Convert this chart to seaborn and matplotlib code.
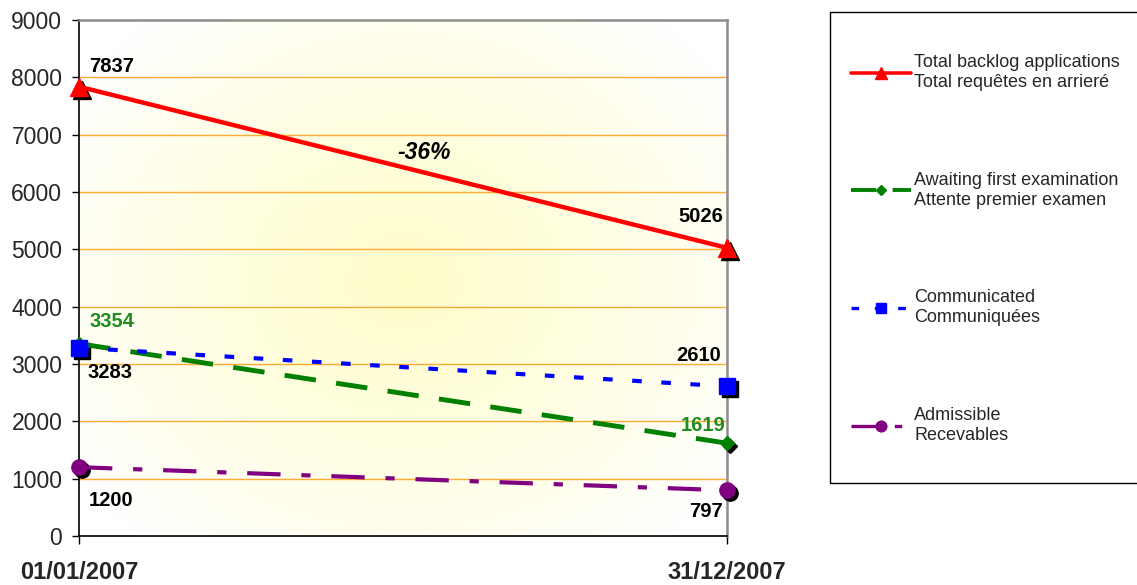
import numpy as np
import pandas as pd
import matplotlib
matplotlib.use('Agg')
import matplotlib.pyplot as plt
import matplotlib.transforms as mtransforms
from matplotlib.lines import Line2D
from matplotlib.patches import Rectangle
import seaborn as sns

# 資料
dates = ['01/01/2007', '31/12/2007']
total_backlog = [7837, 5026]
awaiting_exam = [3354, 1619]
communicated = [3283, 2610]
admissible = [1200, 797]
series_labels = [
    'Total backlog applications\nTotal requêtes en arrieré',
    'Awaiting first examination\nAttente premier examen',
    'Communicated\nCommuniquées',
    'Admissible\nRecevables',
]
change_label = '-36%'

sns.set_style('white')
plt.rcParams['font.family'] = ['Liberation Sans', 'DejaVu Sans']

fig = plt.figure(figsize=(11.37, 5.85), dpi=100)
ax = fig.add_axes([79 / 1137, 1 - 536 / 585, 648 / 1137, 516 / 585])

x_pos = np.arange(len(dates))
ax.set_xlim(0, 1)
ax.set_ylim(0, 9000)

# 背景漸層 (淡黃色放射狀)
gx, gy = np.meshgrid(np.linspace(0, 648, 300), np.linspace(0, 516, 240))
r = np.sqrt((gx - 325) ** 2 + ((gy - 255) / 0.85) ** 2)
t = np.clip(1 - r / 400, 0, 1) ** 0.9
img = np.ones((240, 300, 3))
img[..., 2] = 1 - 0.21 * t
img[..., 1] = 1 - 0.005 * t
ax.imshow(img, extent=(0, 1, 0, 9000), origin='lower', aspect='auto', zorder=0)

for yv in range(1000, 9000, 1000):
    ax.axhline(yv, color='#FFAA33', lw=1, zorder=1)

styles = [
    dict(data=total_backlog, color='#FF0000', ls='-', marker='^', ms=13, lw=3.2),
    dict(data=awaiting_exam, color='#008000', ls=(0, (6.5, 4.2)), marker='D', ms=7.5, lw=3.5),
    dict(data=communicated, color='#0000FF', ls=(0, (2.3, 4.7)), marker='s', ms=11, lw=3.0),
    dict(data=admissible, color='#800080', ls=(0, (8, 5, 2.2, 5)), marker='o', ms=11, lw=3.0),
]

shadow = mtransforms.offset_copy(ax.transData, fig=fig, x=3, y=-3, units='dots')
for st in styles:
    df = pd.DataFrame({'x': x_pos, 'y': st['data']})
    ax.plot(df['x'], df['y'], ls='none', marker=st['marker'], ms=st['ms'],
            color='black', transform=shadow, zorder=3, clip_on=False)
    sns.lineplot(data=df, x='x', y='y', ax=ax, color=st['color'], linestyle=st['ls'],
                 lw=st['lw'], zorder=4, clip_on=False)
    ax.plot(df['x'], df['y'], ls='none', marker=st['marker'], ms=st['ms'],
            color=st['color'], mec=st['color'], zorder=5, clip_on=False)

# 資料標籤
label_specs = [
    (total_backlog, [(10, 20, 'left'), (-4, 31, 'right')], ['black', 'black']),
    (awaiting_exam, [(11, 22, 'left'), (-2, 18, 'right')], ['#1E8C1E', '#1E8C1E']),
    (communicated, [(8, -25, 'left'), (-6, 31, 'right')], ['black', 'black']),
    (admissible, [(10, -33, 'left'), (-4, -21, 'right')], ['black', 'black']),
]
for vals, offs, cols in label_specs:
    for i, v in enumerate(vals):
        dx, dy, ha = offs[i]
        ax.annotate(f'{v}', (x_pos[i], v), xytext=(dx, dy), textcoords='offset pixels',
                    ha=ha, va='center', fontsize=14.5, fontweight='bold', color=cols[i],
                    zorder=6)

ax.annotate(change_label, (np.mean(x_pos), np.mean(total_backlog)), xytext=(21, 15),
            textcoords='offset pixels', ha='center', va='center', fontsize=16.5,
            fontweight='bold', fontstyle='italic', color='black')

ax.set_xticks(x_pos)
ax.set_xticklabels(dates, fontsize=17, fontweight='bold')
ax.set_yticks(range(0, 9001, 1000))
ax.tick_params(axis='y', labelsize=16.5, length=5, width=1, color='black', pad=7, direction='out', left=True)
ax.tick_params(axis='x', length=6, width=1, color='black', pad=12, direction='out', bottom=True)
ax.set_xlabel('')
ax.set_ylabel('')
for side in ['left', 'bottom']:
    ax.spines[side].set_color('black')
    ax.spines[side].set_linewidth(1.2)
for side in ['top', 'right']:
    ax.spines[side].set_color('#8C8C8C')
    ax.spines[side].set_linewidth(1.8)
for sp in ax.spines.values():
    sp.set_zorder(2)

# 圖例
fig.patches.append(Rectangle((830 / 1137, 1 - 483 / 585), 320 / 1137, 471 / 585,
                             transform=fig.transFigure, fill=False, ec='black', lw=1))
handles = [Line2D([], [], color=st['color'], ls=st['ls'], lw=st['lw'] * 0.8,
                  marker=st['marker'], ms=st['ms'] * 0.7) for st in styles]
leg = fig.legend(handles, series_labels, loc='upper left',
                 bbox_to_anchor=(842 / 1137, 1 - 45 / 585), frameon=False,
                 fontsize=13, handlelength=3.3, handletextpad=0.2,
                 labelspacing=4.45, borderpad=0)
for txt in leg.get_texts():
    txt.set_linespacing(1.25)

fig.savefig('out.png', dpi=100)
